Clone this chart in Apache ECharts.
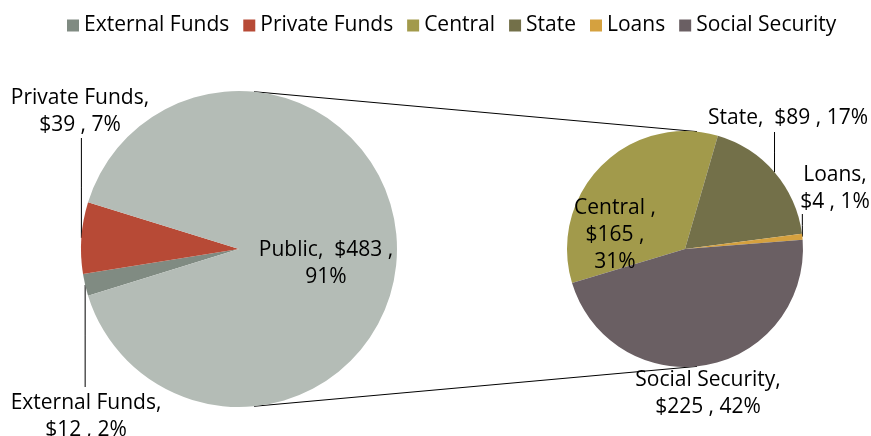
<!DOCTYPE html>
<html>
<head>
<meta charset="utf-8">
<script src="https://cdn.jsdelivr.net/npm/echarts@6/dist/echarts.min.js"></script>
<style>
  html, body { margin: 0; padding: 0; background: #fff; }
  #chart { width: 871px; height: 436px; }
</style>
</head>
<body>
<div id="chart"></div>
<script>
// left pie: where the money comes from
var fundNames = ['External Funds', 'Private Funds', 'Public'];
var fundValues = [12, 39, 483];
var fundPct = [2, 7, 91];
// right pie: the "Public" slice split up
var publicNames = ['Central', 'State', 'Loans', 'Social Security'];
var publicValues = [165, 89, 4, 225];
var publicPct = [31, 17, 1, 42];

var legendNames = ['External Funds', 'Private Funds', 'Central', 'State', 'Loans', 'Social Security'];

var colors = {
  'External Funds': '#808b82',
  'Private Funds': '#b74a36',
  'Public': '#b4bcb6',
  'Central': '#a29a4b',
  'State': '#737049',
  'Loans': '#d5a13f',
  'Social Security': '#6a5f63'
};

var font = '"Open Sans", sans-serif';
var leftPie = { cx: 239, cy: 249, r: 158 };
var rightPie = { cx: 685, cy: 249, r: 118 };

// where each label sits (centre of the text block); lead = y where the leader stops
var labelPos = {
  'Private Funds': { x: 80, y: 112, lead: 138 },
  'External Funds': { x: 86, y: 417, lead: 387 },
  'Public': { x: 326, y: 264 },
  'Central': { x: 615, y: 235 },
  'State': { x: 788, y: 118, lead: 132 },
  'Loans': { x: 835, y: 189, lead: 214 },
  'Social Security': { x: 708, y: 394 }
};

function labelText(name, value, pct) {
  var money = '$' + value;
  if (name == 'Public') return 'Public,  ' + money + ' ,\n' + pct + '%';
  if (name == 'Central') return 'Central ,\n' + money + ' ,\n' + pct + '%';
  if (name == 'State') return 'State,  ' + money + ' , ' + pct + '%';
  return name + ',\n' + money + ' , ' + pct + '%';
}

function buildData(names, values, pcts) {
  return names.map(function (n, i) {
    var inside = (n == 'Public' || n == 'Central');
    var hasLead = labelPos[n].lead != null;
    return {
      name: n,
      value: values[i],
      itemStyle: { color: colors[n] },
      label: {
        position: inside ? 'inside' : 'outside',
        formatter: labelText(n, values[i], pcts[i])
      },
      labelLine: { show: hasLead }
    };
  });
}

var chart = echarts.init(document.getElementById('chart'));

function layoutLabel(p) {
  var series = chart.getModel().getSeriesByIndex(p.seriesIndex);
  var data = series.getData();
  var name = data.getName(p.dataIndex);
  var pos = labelPos[name];
  var res = { x: pos.x, y: pos.y, align: 'center', verticalAlign: 'middle' };
  if (pos.lead != null) {
    var l = data.getItemLayout(p.dataIndex);
    var mid = (l.startAngle + l.endAngle) / 2;
    var px = l.cx + l.r * Math.cos(mid);
    var py = l.cy + l.r * Math.sin(mid);
    res.labelLinePoints = [[px, py], [px, (py + pos.lead) / 2], [px, pos.lead]];
  }
  return res;
}

function rim(p, dx, sign) {
  return [p.cx + dx, p.cy + sign * Math.sqrt(p.r * p.r - dx * dx)];
}
var topA = rim(leftPie, 15, -1), topB = rim(rightPie, 12, -1);
var botA = rim(leftPie, 15, 1), botB = rim(rightPie, 12, 1);

var labelStyle = { color: '#000', fontSize: 21, lineHeight: 27, fontFamily: font };
var lineStyle = { color: '#000', width: 1 };

var option = {
  animation: false,
  legend: {
    data: legendNames,
    top: 10,
    left: 62,
    icon: 'rect',
    itemWidth: 12,
    itemHeight: 12,
    itemGap: 14,
    selectedMode: false,
    textStyle: { color: '#000', fontSize: 21, fontFamily: font }
  },
  graphic: [
    { type: 'line', silent: true, z: 0, shape: { x1: topA[0], y1: topA[1], x2: topB[0], y2: topB[1] }, style: { stroke: '#000', lineWidth: 1 } },
    { type: 'line', silent: true, z: 0, shape: { x1: botA[0], y1: botA[1], x2: botB[0], y2: botB[1] }, style: { stroke: '#000', lineWidth: 1 } }
  ],
  series: [{
    name: 'Funds',
    type: 'pie',
    center: [leftPie.cx, leftPie.cy],
    radius: leftPie.r,
    startAngle: 197.2,
    clockwise: true,
    silent: true,
    avoidLabelOverlap: false,
    label: labelStyle,
    labelLine: { lineStyle: lineStyle, length: 10, length2: 10 },
    labelLayout: layoutLabel,
    data: buildData(fundNames, fundValues, fundPct)
  }, {
    name: 'Public',
    type: 'pie',
    center: [rightPie.cx, rightPie.cy],
    radius: rightPie.r,
    startAngle: 196.8,
    clockwise: true,
    silent: true,
    avoidLabelOverlap: false,
    label: labelStyle,
    labelLine: { lineStyle: lineStyle, length: 10, length2: 10 },
    labelLayout: layoutLabel,
    data: buildData(publicNames, publicValues, publicPct)
  }]
};

chart.setOption(option);
</script>
</body>
</html>
